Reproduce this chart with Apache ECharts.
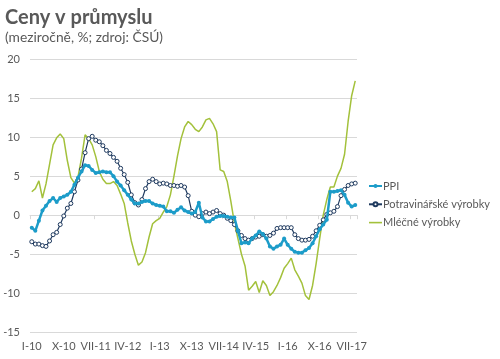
<!DOCTYPE html>
<html><head><meta charset="utf-8">
<script src="https://cdn.jsdelivr.net/npm/echarts@6/dist/echarts.min.js"></script>
<style>html,body{margin:0;padding:0;background:#fff}#c{width:500px;height:359px}</style>
</head><body><div id="c"></div>
<script>
var romans = ['I','II','III','IV','V','VI','VII','VIII','IX','X','XI','XII'];
var years = ['10','11','12','13','14','15','16','17'];
var categories = [];
years.forEach(function(y){ romans.forEach(function(r){ categories.push(r + '-' + y); }); });
categories = categories.slice(0, 92); // I-10 .. VIII-17

var ppi = [-1.6,-2.0,-0.7,0.6,1.2,1.8,2.2,1.7,2.2,2.4,2.6,3.0,
  3.9,4.8,5.6,6.4,6.3,5.8,5.4,5.5,5.6,5.5,5.5,5.0,
  4.3,3.8,3.2,2.6,2.0,1.5,1.5,1.7,1.8,1.8,1.5,1.3,
  1.2,1.1,0.5,0.5,0.3,0.7,1.0,0.6,0.4,0.2,0.4,1.6,
  -0.3,-0.8,-0.8,-0.5,-0.2,-0.1,-0.1,-0.2,-0.3,-0.3,-2.0,-3.6,
  -3.5,-3.6,-3.0,-2.6,-2.1,-2.4,-3.0,-4.0,-4.3,-4.0,-3.8,-3.0,
  -3.8,-4.3,-4.7,-4.8,-4.8,-4.5,-4.2,-3.6,-2.7,-1.8,-1.2,-0.6,
  3.0,3.0,3.1,3.2,2.6,1.6,1.1,1.3];
var potraviny = [-3.4,-3.7,-3.7,-3.9,-4.0,-3.3,-2.5,-2.2,-1.2,-0.1,0.9,1.5,
  3.0,4.5,5.9,8.0,9.8,10.1,9.6,9.4,8.9,8.3,7.9,7.4,
  6.9,6.0,5.2,4.2,2.6,1.6,1.3,2.0,3.4,4.3,4.6,4.3,
  4.0,4.1,4.0,3.8,3.8,3.7,3.8,3.6,2.5,0.5,0.0,-0.2,
  0.2,0.4,0.2,0.4,0.6,0.2,0.0,-0.4,-0.7,-1.2,-2.0,-2.6,
  -3.0,-3.2,-3.0,-2.8,-2.7,-2.5,-2.7,-2.6,-2.3,-1.7,-1.6,-1.6,
  -1.6,-1.6,-2.5,-3.0,-3.2,-3.2,-3.1,-2.7,-2.0,-1.3,-0.6,0.1,
  0.3,0.5,1.1,2.5,3.3,3.8,4.0,4.1];
var mlecne = [3.0,3.4,4.4,2.2,4.0,6.5,9.0,9.9,10.4,9.8,7.0,4.8,
  4.1,4.9,7.3,10.3,9.8,9.0,7.5,5.6,4.6,4.05,4.05,4.3,
  3.8,2.7,1.5,-1.0,-3.3,-5.0,-6.4,-6.0,-4.8,-2.8,-1.1,-0.7,
  -0.4,0.4,1.1,2.6,5.0,7.6,9.8,11.3,12.0,11.6,11.0,10.7,
  11.3,12.2,12.4,11.7,10.7,5.8,5.6,4.3,1.8,-1.0,-3.0,-5.0,
  -6.5,-9.6,-9.1,-8.5,-9.9,-8.4,-9.0,-10.3,-9.8,-9.0,-8.0,-6.8,
  -6.2,-5.5,-7.0,-7.8,-8.7,-10.3,-10.8,-9.0,-6.2,-3.0,0.0,2.0,
  3.6,3.6,5.0,6.0,7.8,12.0,15.3,17.2];
var yTicks = {min: -15, max: 20, interval: 5};

var FONT = 'Lato';
var grey = '#595959';
var chart = echarts.init(document.getElementById('c'), null, {renderer: 'canvas'});
chart.setOption({
  animation: false,
  backgroundColor: '#fff',
  textStyle: {fontFamily: FONT},
  title: {
    text: 'Ceny v průmyslu',
    subtext: '(meziročně, %; zdroj: ČSÚ)',
    left: 0, top: 3, itemGap: 3,
    textStyle: {fontFamily: FONT, fontSize: 20, fontWeight: 'bold', color: grey},
    subtextStyle: {fontFamily: FONT, fontSize: 13.8, color: grey}
  },
  grid: {left: 30, right: 143, top: 59, bottom: 26.7, containLabel: false},
  legend: {
    orient: 'vertical', left: 368, top: 179, itemWidth: 13, itemHeight: 5, itemGap: 4.3,
    padding: 0,
    textStyle: {fontFamily: FONT, fontSize: 11, color: grey, padding: [0,0,0,-4], lineHeight: 14},
    data: ['PPI', 'Potravinářské výrobky',
      {name: 'Mléčné výrobky', icon: 'path://M0,0H13V1.6H0Z', itemStyle: {color: '#A3C13B'}}]
  },
  xAxis: [{
    type: 'category', data: categories, boundaryGap: true,
    axisLine: {onZero: true, lineStyle: {color: '#D9D9D9'}},
    axisTick: {show: true, interval: 8, length: 4, lineStyle: {color: '#D9D9D9'}},
    axisLabel: {show: false}, splitLine: {show: false}
  }, {
    type: 'category', data: categories, boundaryGap: true, position: 'bottom',
    axisLine: {show: false, onZero: false}, axisTick: {show: false},
    axisLabel: {interval: 8, color: grey, fontSize: 11, fontFamily: FONT, margin: 9}
  }],
  yAxis: {
    type: 'value', min: yTicks.min, max: yTicks.max, interval: yTicks.interval,
    axisLine: {show: false}, axisTick: {show: false},
    axisLabel: {color: grey, fontSize: 11, fontFamily: FONT, margin: 10},
    splitLine: {lineStyle: {color: '#D9D9D9', width: 1}}
  },
  series: [{
    name: 'Mléčné výrobky', type: 'line', data: mlecne, z: 1,
    symbol: 'none', lineStyle: {color: '#A3C13B', width: 1.5}, itemStyle: {color: '#A3C13B'}
  }, {
    name: 'Potravinářské výrobky', type: 'line', data: potraviny, z: 2,
    symbol: 'circle', symbolSize: 4, showAllSymbol: true,
    lineStyle: {color: '#1F3A5F', width: 1.2},
    itemStyle: {color: '#fff', borderColor: '#1F3A5F', borderWidth: 1}
  }, {
    name: 'PPI', type: 'line', data: ppi, z: 3,
    symbol: 'circle', symbolSize: 4, showAllSymbol: true,
    lineStyle: {color: '#1C9CC9', width: 2.5},
    itemStyle: {color: '#1C9CC9'}
  }]
});
</script></body></html>
